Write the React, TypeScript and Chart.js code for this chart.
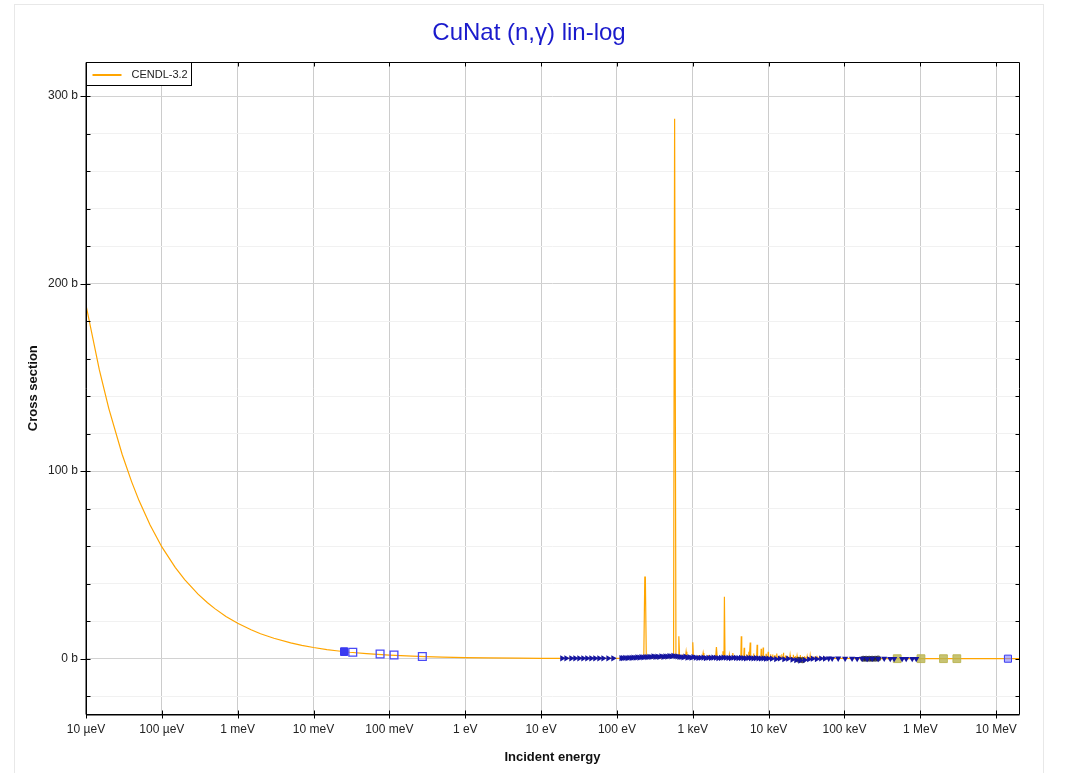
import React, { useEffect, useRef } from "react";
import { Chart, registerables } from "chart.js";

Chart.register(...registerables);

const FONT = '"Liberation Sans", Arial, Helvetica, sans-serif';

const titleText = "CuNat (n,γ) lin-log";
const legendLabel = "CENDL-3.2";
const xTitle = "Incident energy";
const yTitle = "Cross section";

const xTickValues = [1e-5, 1e-4, 1e-3, 1e-2, 1e-1, 1, 10, 100, 1e3, 1e4, 1e5, 1e6, 1e7];
const xTickLabels = ["10 µeV", "100 µeV", "1 meV", "10 meV", "100 meV", "1 eV", "10 eV", "100 eV", "1 keV", "10 keV", "100 keV", "1 MeV", "10 MeV"];
const yTickValues = [-20, 0, 20, 40, 60, 80, 100, 120, 140, 160, 180, 200, 220, 240, 260, 280, 300];

// CENDL-3.2 evaluated curve (eV, barns)
const cendlEnergy = [
  1e-5, 1.5e-5, 2e-5, 3e-5, 4e-5, 5e-5, 7e-5, 1e-4, 1.5e-4, 2e-4, 3e-4, 4e-4, 5e-4, 7e-4,
  1e-3, 1.5e-3, 2e-3, 3e-3, 5e-3, 7e-3, 1e-2, 1.5e-2, 2e-2, 3e-2, 5e-2, 7e-2, 0.1, 0.2, 0.3, 0.5,
  1, 2, 5, 10, 20, 50, 100, 150, 200,
  226, 233, 237, 244, 400, 558, 576, 582, 600, 640, 655, 670, 725, 732, 740, 800, 817, 835,
  980, 998, 1003, 1020, 1180, 1195, 1210, 1340, 1370, 1400, 1600, 1620, 1640, 2000, 2050, 2100,
  2450, 2500, 2550, 2580, 2612, 2628, 2660, 3000, 3030, 3060, 3330, 3370, 3410,
  4300, 4360, 4420, 4700, 4760, 4820, 5100, 5150, 5200, 5400, 5480, 5560, 5650, 5720, 5800,
  6300, 6350, 6400, 6950, 7050, 7150, 7900, 7980, 8060, 8400, 8480, 8560, 9200, 9260, 9320, 9800, 9880, 9960,
  10500, 10600, 10700, 11200, 11300, 11400, 12000, 12100, 12200, 12700, 12800, 12900, 14000, 14100, 14200,
  14800, 14900, 15000, 15600, 15700, 15800, 16600, 16700, 16800,
  17500, 17600, 17700, 19000, 19200, 19400, 21000, 21100, 21300, 22300, 22400, 22500, 23500, 23700, 23900,
  26000, 26100, 26300, 27800, 27900, 28000, 29500, 29700, 29900, 32000, 32200, 32400, 35000, 35300, 35600,
  39000, 39300, 39600, 43000, 43300, 43600, 47000, 47300, 47600, 55000, 55300, 55600,
  70000, 1e5, 2e5, 5e5, 1e6, 2e6, 5e6, 1e7, 2e7,
];
const cendlSigma = [
  188.6, 154, 133.4, 108.9, 94.3, 84.3, 71.3, 59.6, 48.7, 42.2, 34.4, 29.8, 26.7, 22.5,
  18.9, 15.4, 13.3, 10.9, 8.43, 7.13, 5.96, 4.87, 4.22, 3.44, 2.67, 2.25, 1.89, 1.33, 1.09, 0.84,
  0.6, 0.42, 0.27, 0.19, 0.14, 0.12, 0.15, 0.2, 0.3,
  0.35, 43.5, 43.5, 0.35, 0.4, 0.8, 288, 288, 0.8, 0.6, 12, 0.6, 0.5, 2.2, 0.5, 0.4, 3.7, 0.4,
  0.5, 8.7, 8.7, 0.5, 0.5, 1.8, 0.5, 0.4, 3.0, 0.4, 0.5, 2.0, 0.5, 0.5, 6.2, 0.5,
  0.5, 4.0, 0.5, 0.6, 33, 33, 0.6, 0.5, 1.9, 0.5, 0.5, 3.0, 0.5,
  0.5, 12, 0.5, 0.6, 5.8, 0.6, 0.6, 2.4, 0.6, 0.6, 3.7, 0.6, 0.6, 8.6, 0.6,
  0.7, 2.8, 0.7, 0.7, 7.4, 0.7, 0.7, 5.3, 0.7, 0.7, 6.0, 0.7, 0.8, 2.6, 0.8, 0.8, 3.7, 0.8,
  0.8, 2.4, 0.8, 0.8, 2.2, 0.8, 0.8, 1.9, 0.8, 0.8, 2.7, 0.8, 0.7, 1.8, 0.7,
  0.7, 2.3, 0.7, 0.7, 3.2, 0.7, 0.7, 1.7, 0.7,
  0.7, 1.6, 0.6, 0.6, 2.0, 0.6, 0.6, 2.1, 0.5, 0.5, 1.4, 0.5, 0.5, 1.5, 0.5,
  0.5, 2.0, 0.5, 0.5, 1.2, 0.5, 0.5, 1.3, 0.4, 0.4, 1.1, 0.4, 0.4, 1.6, 0.4,
  0.4, 1.1, 0.4, 0.4, 1.5, 0.3, 0.3, 0.9, 0.3, 0.3, 1.0, 0.3,
  0.2, 0.12, 0.08, 0.06, 0.05, 0.03, 0.01, 0.005, 0.003,
];

// EXFOR: thermal filled squares
const thermalE = [0.0253, 0.0253];
const thermalS = [3.9, 3.6];
// EXFOR: open squares
const openSqE = [0.0329, 0.0754, 0.115, 0.272];
const openSqS = [3.4, 2.5, 2.0, 1.2];
// EXFOR: 14 MeV point
const fastSqE = [1.43e7];
const fastSqS = [0.0];
// EXFOR: right-pointing triangles (navy)
const triRightE = [
  18.9, 21.4, 24.9, 28.1, 31.7, 35.8, 40.4, 45.7, 51.5, 58.2, 65.8, 76.6, 89.1,
  114, 120, 128, 137, 145, 155, 164, 175, 185, 197, 209, 222, 236, 250, 266, 283, 301, 320,
  340, 360, 383, 408, 433, 460, 489, 520, 552, 588, 624, 663, 703, 748, 794, 845, 898, 955,
  1014, 1090, 1180, 1270, 1374, 1480, 1600, 1730, 1862, 2010, 2168, 2340, 2523, 2720, 2938,
  3170, 3420, 3690, 3981, 4300, 4634, 5000, 5395, 5820, 6280, 6780, 7311, 7890, 8511, 9180, 9908,
  11000, 12500, 14000, 16000, 18000, 20500, 23000, 26000, 30000, 34000, 38000, 43000, 49000, 55000,
];
const triRightS = [
  0.2, 0.2, 0.2, 0.2, 0.2, 0.2, 0.2, 0.2, 0.2, 0.2, 0.2, 0.2, 0.2,
  0.3, 0.3, 0.4, 0.3, 0.5, 0.4, 0.6, 0.5, 0.7, 0.6, 0.8, 0.7, 0.9, 0.8, 1.0, 0.9, 1.2, 1.0,
  1.1, 0.9, 1.3, 1.0, 1.2, 1.1, 1.4, 1.2, 1.5, 1.3, 1.2, 1.0, 0.9, 0.7, 1.1, 0.6, 0.8, 0.5,
  0.9, 0.6, 0.4, 0.5, 0.6, 0.3, 0.5, 0.4, 0.6, 0.5, 0.3, 0.4, 0.6, 0.5, 0.4,
  0.3, 0.5, 0.4, 0.3, 0.4, 0.3, 0.2, 0.4, 0.3, 0.2, 0.3, 0.2, 0.1, 0.2, 0.0, 0.1,
  0.0, -0.2, 0.1, -0.3, 0.0, -0.5, -0.8, -1.0, -0.7, -0.3, 0.0, -0.2, 0.1, 0.0,
];
// EXFOR: downward triangles (navy)
const triDownE = [
  62000, 68800, 82600, 102000, 126000, 147000, 171000, 199000, 232000, 278000, 334000,
  401000, 452000, 576000, 651000, 782000, 883000,
];
const triDownS = [
  0.2, 0.1, 0.2, 0.1, 0.1, 0.0, 0.1, 0.0, 0.1, 0.0, 0.1, 0.0, 0.0, 0.0, 0.0, 0.0, 0.0,
];
// EXFOR: black points
const blackE = [25000, 28000, 177000, 193000, 212000, 232000, 254000, 278000];
const blackS = [-0.6, -0.9, 0.0, -0.1, 0.0, -0.1, 0.0, 0.1];
// EXFOR: olive squares
const oliveE = [496000, 1.02e6, 2.02e6, 3.03e6];
const oliveS = [0.0, 0.0, 0.0, 0.0];

const zip = (xs: number[], ys: number[]) => xs.map((x, i) => ({ x, y: ys[i] }));

const framePlugin = {
  id: "frameTicks",
  afterDraw(chart: any) {
    const { ctx, chartArea: a, scales } = chart;
    const xs = scales.x;
    const ys = scales.y;
    const L = Math.round(a.left) + 0.5;
    const R = Math.round(a.right) + 0.5;
    const T = Math.round(a.top) + 0.5;
    const B = Math.round(a.bottom) + 0.5;
    ctx.save();
    ctx.strokeStyle = "#000";
    ctx.lineWidth = 1;
    ctx.beginPath();
    ctx.rect(L, T, R - L, B - T);
    ctx.stroke();
    ctx.beginPath();
    ctx.moveTo(L - 0.5, T);
    ctx.lineTo(L - 0.5, B);
    ctx.moveTo(L, B + 0.5);
    ctx.lineTo(R, B + 0.5);
    ctx.stroke();
    ctx.beginPath();
    for (const v of xTickValues) {
      const px = Math.round(xs.getPixelForValue(v)) + 0.5;
      ctx.moveTo(px, B - 4);
      ctx.lineTo(px, B + 4);
      ctx.moveTo(px, T);
      ctx.lineTo(px, T + 4);
    }
    for (const v of yTickValues) {
      const py = Math.round(ys.getPixelForValue(v)) + 0.5;
      if (v % 100 === 0) {
        ctx.moveTo(L - 6, py);
        ctx.lineTo(L + 4, py);
      } else {
        ctx.moveTo(L, py);
        ctx.lineTo(L + 4, py);
      }
      ctx.moveTo(R - 4, py);
      ctx.lineTo(R, py);
    }
    ctx.stroke();

    // legend box
    const lx = L;
    const ly = T;
    const lw = 105;
    const lh = 23;
    ctx.fillStyle = "#fff";
    ctx.fillRect(lx, ly, lw, lh);
    ctx.strokeRect(lx, ly, lw, lh);
    ctx.strokeStyle = "#FFA500";
    ctx.lineWidth = 2;
    ctx.beginPath();
    ctx.moveTo(lx + 6, ly + 12.5);
    ctx.lineTo(lx + 35, ly + 12.5);
    ctx.stroke();
    ctx.fillStyle = "#222";
    ctx.font = `11px ${FONT}`;
    ctx.textBaseline = "middle";
    ctx.textAlign = "left";
    ctx.fillText(legendLabel, lx + 45, ly + 12.5);
    ctx.restore();
  },
};

export default function App() {
  const ref = useRef<HTMLCanvasElement | null>(null);

  useEffect(() => {
    if (!ref.current) return;
    Chart.defaults.font.family = FONT;
    const chart = new Chart(ref.current, {
      type: "scatter",
      data: {
        datasets: [
          {
            label: legendLabel,
            data: zip(cendlEnergy, cendlSigma),
            showLine: true,
            borderColor: "#FFA500",
            backgroundColor: "#FFA500",
            borderWidth: 1.2,
            pointRadius: 0,
            order: 1,
          },
          {
            label: "thermal",
            data: zip(thermalE, thermalS),
            pointStyle: "rect",
            pointRadius: 5,
            backgroundColor: "#3a3af0",
            borderColor: "#3a3af0",
            borderWidth: 1,
            order: 0,
          },
          {
            label: "open",
            data: zip(openSqE, openSqS),
            pointStyle: "rect",
            pointRadius: 5.5,
            backgroundColor: "rgba(255,255,255,0)",
            borderColor: "#4a4af5",
            borderWidth: 1.3,
            order: 0,
          },
          {
            label: "tri-right",
            data: zip(triRightE, triRightS),
            pointStyle: "triangle",
            rotation: 90,
            pointRadius: 3.6,
            backgroundColor: "#1414a0",
            borderColor: "#1414a0",
            borderWidth: 0,
            order: 0,
          },
          {
            label: "tri-down",
            data: zip(triDownE, triDownS),
            pointStyle: "triangle",
            rotation: 180,
            pointRadius: 3.6,
            backgroundColor: "#1414a0",
            borderColor: "#1414a0",
            borderWidth: 0,
            order: 0,
          },
          {
            label: "black",
            data: zip(blackE, blackS),
            pointStyle: "circle",
            pointRadius: 3,
            backgroundColor: "rgba(30,30,40,0.75)",
            borderColor: "rgba(30,30,40,0.75)",
            borderWidth: 0,
            order: 0,
          },
          {
            label: "olive",
            data: zip(oliveE, oliveS),
            pointStyle: "rect",
            pointRadius: 5.5,
            backgroundColor: "rgba(185,180,80,0.8)",
            borderColor: "rgba(185,180,80,0.9)",
            borderWidth: 1,
            order: 0,
          },
          {
            label: "fast",
            data: zip(fastSqE, fastSqS),
            pointStyle: "rect",
            pointRadius: 5,
            backgroundColor: "rgba(130,130,255,0.6)",
            borderColor: "#3a3af0",
            borderWidth: 1,
            order: 0,
          },
        ],
      },
      options: {
        animation: false,
        responsive: false,
        devicePixelRatio: 1,
        events: [],
        layout: { padding: { left: 0, right: 0, top: 0, bottom: 0 } },
        plugins: {
          legend: { display: false },
          tooltip: { enabled: false },
          title: {
            display: true,
            text: titleText,
            color: "#1a1acc",
            font: { family: FONT, size: 24, weight: "normal" },
            padding: { top: 13.6, bottom: 15 },
          },
        },
        scales: {
          x: {
            type: "logarithmic",
            min: 1e-5,
            max: 2e7,
            afterBuildTicks: (s: any) => {
              s.ticks = xTickValues.map((v) => ({ value: v }));
            },
            afterFit: (s: any) => {
              s.height = 59;
            },
            ticks: {
              autoSkip: false,
              maxRotation: 0,
              minRotation: 0,
              padding: 8,
              color: "#222",
              font: { family: FONT, size: 12 },
              callback: (_v: any, i: number) => xTickLabels[i],
            },
            grid: { color: "#cccccc", drawTicks: false, lineWidth: 1 },
            border: { display: false },
            title: {
              display: true,
              text: xTitle,
              color: "#111",
              font: { family: FONT, size: 13, weight: "bold" },
              padding: { top: 0, bottom: 8 },
            },
          },
          y: {
            type: "linear",
            min: -29.5,
            max: 318,
            afterBuildTicks: (s: any) => {
              s.ticks = yTickValues.map((v) => ({ value: v }));
            },
            afterFit: (s: any) => {
              s.width = 71;
            },
            ticks: {
              autoSkip: false,
              padding: 8,
              color: "#222",
              font: { family: FONT, size: 12 },
              callback: (v: any) => (Number(v) % 100 === 0 ? `${v} b` : ""),
            },
            grid: {
              drawTicks: false,
              lineWidth: 1,
              color: (ctx: any) =>
                ctx.tick && ctx.tick.value % 100 === 0 ? "#d2d2d2" : "#f1f1f1",
            },
            border: { display: false },
            title: {
              display: true,
              text: yTitle,
              color: "#111",
              font: { family: FONT, size: 13, weight: "bold" },
              padding: { top: 11, bottom: 0 },
            },
          },
          yRight: {
            type: "linear",
            position: "right",
            display: true,
            min: 0,
            max: 1,
            afterFit: (s: any) => {
              s.width = 24;
            },
            ticks: { display: false },
            grid: { display: false, drawOnChartArea: false, drawTicks: false },
            border: { display: false },
            title: { display: false },
          },
        },
      },
      plugins: [framePlugin],
    });
    return () => chart.destroy();
  }, []);

  return (
    <div
      style={{
        position: "absolute",
        left: 14,
        top: 4,
        width: 1028,
        height: 800,
        border: "1px solid #e8e8e8",
        background: "#fff",
      }}
    >
      <canvas
        ref={ref}
        width={1028}
        height={768}
        style={{ position: "absolute", left: 0, top: 0, width: 1028, height: 768 }}
      />
    </div>
  );
}
